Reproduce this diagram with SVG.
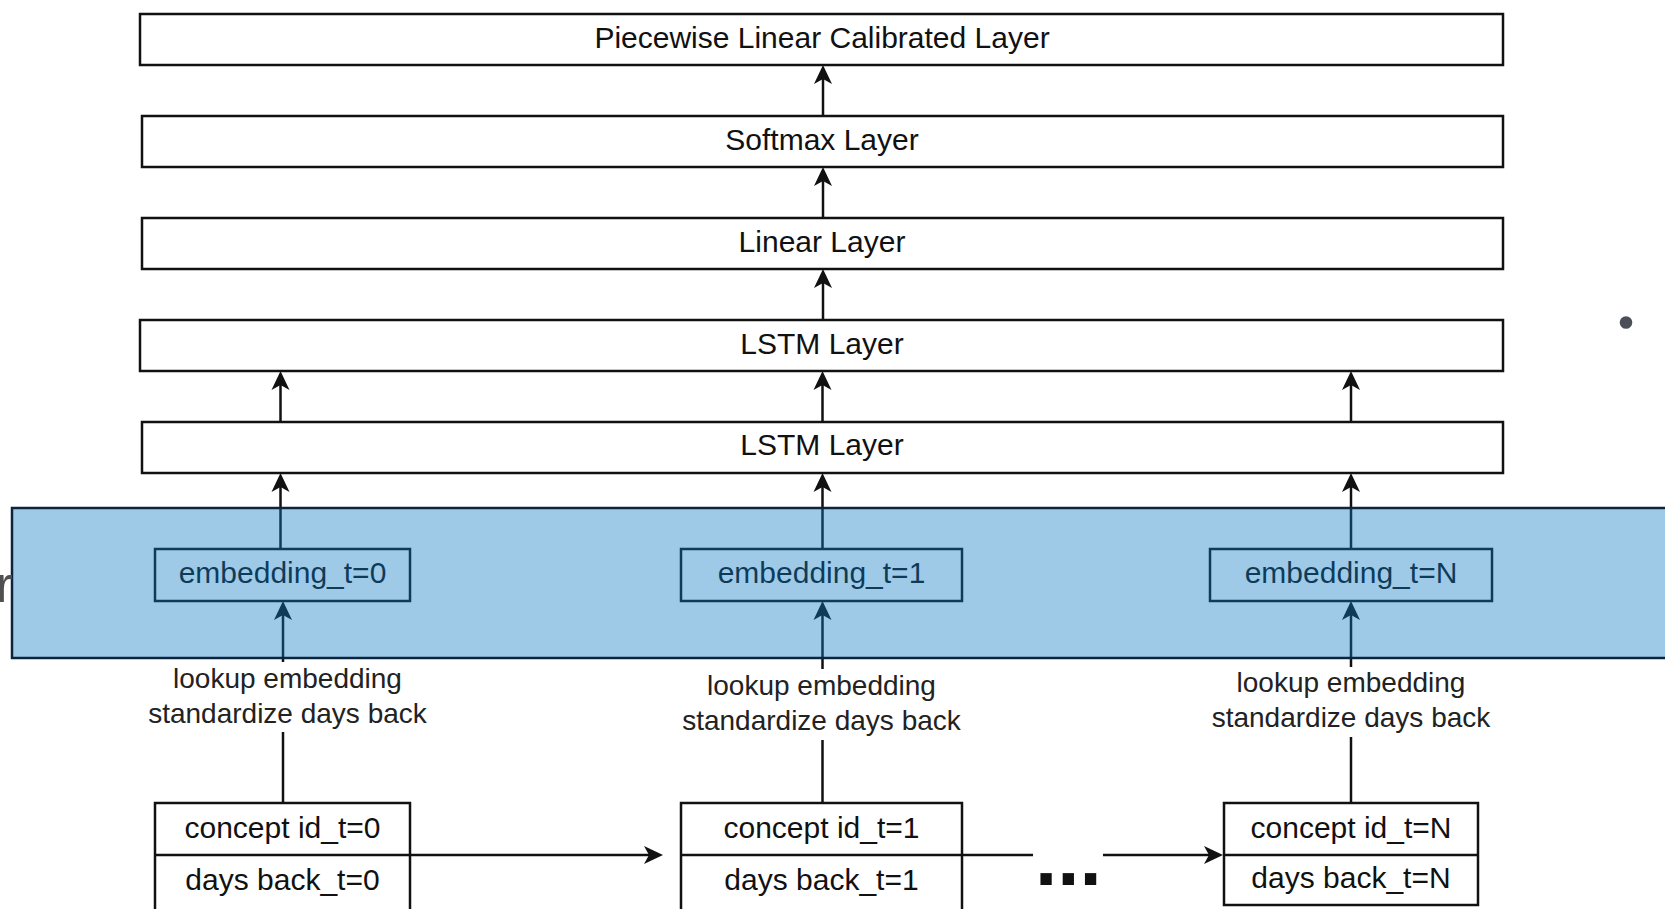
<svg xmlns="http://www.w3.org/2000/svg" width="1665" height="909" viewBox="0 0 1665 909">
<style>
.box{fill:#fff;stroke:#111;stroke-width:2.5}
.t{font-family:"Liberation Sans",Arial,Helvetica,sans-serif;font-size:30px;fill:#111;text-anchor:middle}
.lbl{font-size:28px;fill:#222}
.c{stroke:#111;stroke-width:2.5;fill:none}
.ca{marker-end:url(#arr)}
</style>
<defs>
<marker id="arr" markerUnits="userSpaceOnUse" markerWidth="40" markerHeight="40" refX="0" refY="0" orient="auto" overflow="visible">
<path d="M8,0 L-11,-9 L-6,0 L-11,9 Z" fill="#111"/>
</marker>
</defs>
<rect width="1665" height="909" fill="#fff"/>

<g id="piecewise">
<rect class="box" x="140" y="14" width="1363" height="51"/>
<text class="t" x="822" y="47.5">Piecewise Linear Calibrated Layer</text>
</g>
<g id="softmax">
<rect class="box" x="142" y="116" width="1361" height="51"/>
<text class="t" x="822" y="149.5">Softmax Layer</text>
</g>
<g id="linear">
<rect class="box" x="142" y="218" width="1361" height="51"/>
<text class="t" x="822" y="251.5">Linear Layer</text>
</g>
<g id="lstm2">
<rect class="box" x="140" y="320" width="1363" height="51"/>
<text class="t" x="822" y="353.5">LSTM Layer</text>
</g>
<g id="lstm1">
<rect class="box" x="142" y="422" width="1361" height="51"/>
<text class="t" x="822" y="455">LSTM Layer</text>
</g>

<g id="connectors">
<line class="c ca" x1="823" y1="116" x2="823" y2="73"/>
<line class="c ca" x1="823" y1="218" x2="823" y2="175"/>
<line class="c ca" x1="823" y1="320" x2="823" y2="277"/>
<line class="c ca" x1="280.5" y1="422" x2="280.5" y2="379"/>
<line class="c ca" x1="822.5" y1="422" x2="822.5" y2="379"/>
<line class="c ca" x1="1351" y1="422" x2="1351" y2="379"/>
<line class="c ca" x1="280.5" y1="549" x2="280.5" y2="481"/>
<line class="c ca" x1="822.5" y1="549" x2="822.5" y2="481"/>
<line class="c ca" x1="1351" y1="549" x2="1351" y2="481"/>
<line class="c ca" x1="283" y1="662" x2="283" y2="609"/>
<line class="c ca" x1="822.5" y1="669" x2="822.5" y2="609"/>
<line class="c ca" x1="1351" y1="667" x2="1351" y2="609"/>
<line class="c" x1="283" y1="803" x2="283" y2="732"/>
<line class="c" x1="822.5" y1="803" x2="822.5" y2="740"/>
<line class="c" x1="1351" y1="803" x2="1351" y2="737"/>
<line class="c ca" x1="410" y1="855" x2="655" y2="855"/>
<line class="c" x1="962" y1="855" x2="1033" y2="855"/>
<line class="c ca" x1="1103" y1="855" x2="1215" y2="855"/>
</g>

<g id="emb0">
<rect class="box" x="155" y="549" width="255" height="52"/>
<text class="t" x="282.5" y="583">embedding_t=0</text>
</g>
<g id="emb1">
<rect class="box" x="681" y="549" width="281" height="52"/>
<text class="t" x="821.5" y="583">embedding_t=1</text>
</g>
<g id="embN">
<rect class="box" x="1210" y="549" width="282" height="52"/>
<text class="t" x="1351" y="583">embedding_t=N</text>
</g>

<g id="band">
<rect x="12" y="508" width="1665" height="150" fill="#0C7AC5" fill-opacity="0.4" stroke="#0C2440" stroke-width="2.5"/>
</g>

<g id="label0">
<text class="t lbl" x="287.5" y="688">lookup embedding</text>
<text class="t lbl" x="287.5" y="723">standardize days back</text>
</g>
<g id="label1">
<text class="t lbl" x="821.5" y="695">lookup embedding</text>
<text class="t lbl" x="821.5" y="730">standardize days back</text>
</g>
<g id="labelN">
<text class="t lbl" x="1351" y="692">lookup embedding</text>
<text class="t lbl" x="1351" y="727">standardize days back</text>
</g>

<g id="input0">
<rect class="box" x="155" y="803" width="255" height="120"/>
<line class="c" x1="155" y1="855" x2="410" y2="855"/>
<text class="t" x="282.5" y="838">concept id_t=0</text>
<text class="t" x="282.5" y="890">days back_t=0</text>
</g>
<g id="input1">
<rect class="box" x="681" y="803" width="281" height="120"/>
<line class="c" x1="681" y1="855" x2="962" y2="855"/>
<text class="t" x="821.5" y="838">concept id_t=1</text>
<text class="t" x="821.5" y="890">days back_t=1</text>
</g>
<g id="inputN">
<rect class="box" x="1224" y="803" width="254" height="102"/>
<line class="c" x1="1224" y1="855" x2="1478" y2="855"/>
<text class="t" x="1351" y="838">concept id_t=N</text>
<text class="t" x="1351" y="888">days back_t=N</text>
</g>

<g id="ellipsis">
<text x="1035" y="885" font-family="Liberation Sans, Arial, sans-serif" font-size="80" font-weight="bold" fill="#111">...</text>
</g>
<g id="fragment">
<text x="-4" y="602" font-family="Liberation Sans, Arial, sans-serif" font-size="50" fill="#505050">r</text>
</g>
<g id="bullet">
<circle cx="1626" cy="322.5" r="6.3" fill="#4B5058"/>
</g>
</svg>
